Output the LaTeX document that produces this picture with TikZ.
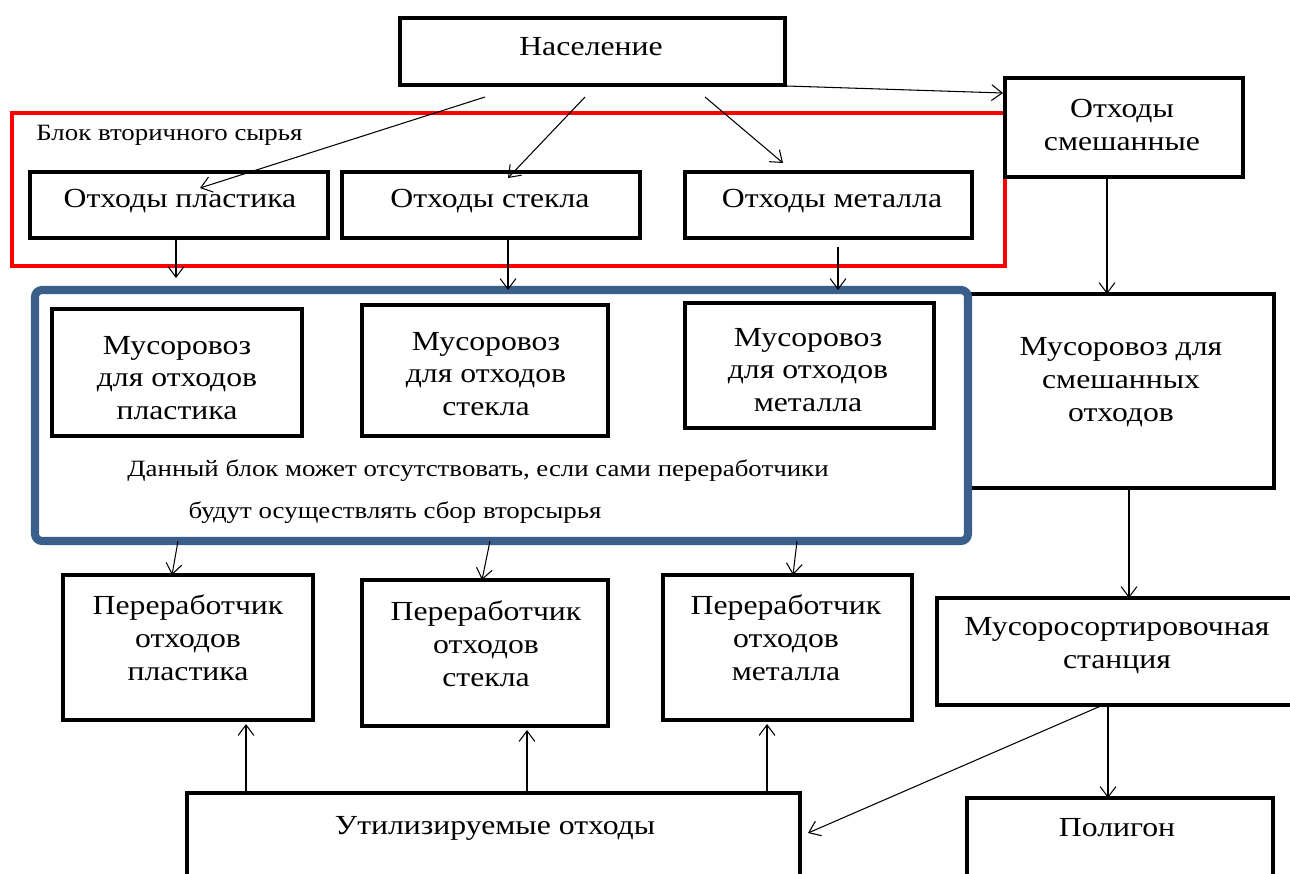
\documentclass[tikz,border=0pt]{standalone}
\usepackage{fontspec}
\setmainfont[FakeStretch=1.15]{Liberation Serif}
\usetikzlibrary{arrows.meta,fit}
\definecolor{blockblue}{RGB}{58,95,139}
\definecolor{blockred}{RGB}{255,0,0}
\tikzset{
  box/.style={draw, line width=2.8pt, inner sep=0pt, outer sep=0pt},
  txt/.style={align=center, inner sep=0pt, font=\fontsize{15.7}{18.7}\selectfont},
  small/.style={inner sep=0pt, font=\fontsize{13.3}{14}\selectfont},
  arr/.style={line width=0.6pt, -{Straight Barb[length=6pt,width=9pt,line width=0.6pt]}},
}
\begin{document}
\begin{tikzpicture}[x=0.02cm,y=-0.02cm]
\useasboundingbox (0,0) rectangle (1290,873);
\clip (0,0) rectangle (1290,873);
\fill[white] (0,0) rectangle (1290,873);
% red block
\node[draw=blockred, line width=2.4pt, inner sep=0pt, outer sep=0pt, fit={(12,113)(1005,266)}] (red) {};
\node[small, anchor=west] (redlbl) at (36,135) {Блок вторичного сырья};
% top
\node[box, fit={(400,18)(785,85)}] (nas) {};
\node[txt] (nast) at (591,47) {Население};
\node[box, fill=white, fit={(1005,78)(1243,177)}] (mix) {};
\node[txt] (mixt) at (1122,125) {Отходы\\смешанные};
\node[box, fit={(30,172)(328,238)}] (plas) {};
\node[txt] (plast) at (180,201) {Отходы пластика};
\node[box, fit={(342,172)(640,238)}] (glass) {};
\node[txt] (glasst) at (490,201) {Отходы стекла};
\node[box, fit={(685,172)(972,238)}] (metal) {};
\node[txt] (metalt) at (832,201) {Отходы металла};
% trucks
\node[box, fit={(968,294)(1274,488)}] (tmix) {};
\node[txt] (tmixt) at (1121,382) {Мусоровоз для\\смешанных\\отходов};
\node[draw=blockblue, line width=4.6pt, rounded corners=4pt, inner sep=0pt, outer sep=0pt, fit={(35,290)(968,541)}] (blue) {};
\node[box, fit={(52,309)(302,436)}] (tplas) {};
\node[txt] (tplast) at (177,378) {Мусоровоз\\для отходов\\пластика};
\node[box, fit={(362,305)(608,436)}] (tglass) {};
\node[txt] (tglasst) at (486,374) {Мусоровоз\\для отходов\\стекла};
\node[box, fit={(685,303)(934,428)}] (tmetal) {};
\node[txt] (tmetalt) at (808,370) {Мусоровоз\\для отходов\\металла};
\node[small] (note1) at (478,471) {Данный блок может отсутствовать, если сами переработчики};
\node[small] (note2) at (395,513) {будут осуществлять сбор вторсырья};
% processors
\node[box, fit={(63,575)(313,720)}] (pplas) {};
\node[txt] (pplast) at (188,638) {Переработчик\\отходов\\пластика};
\node[box, fit={(362,580)(608,726)}] (pglass) {};
\node[txt] (pglasst) at (486,644) {Переработчик\\отходов\\стекла};
\node[box, fit={(663,575)(912,720)}] (pmetal) {};
\node[txt] (pmetalt) at (786,638) {Переработчик\\отходов\\металла};
\node[box, fit={(937,598)(1310,705)}] (sort) {};
\node[txt] (sortt) at (1117,646) {Мусоросортировочная\\станция};
% bottom
\node[box, fit={(187,793)(800,910)}] (util) {};
\node[txt] (utilt) at (495,828) {Утилизируемые отходы};
\node[box, fit={(967,798)(1273,910)}] (poly) {};
\node[txt] (polyt) at (1117,828) {Полигон};
% arrows
\draw[arr] ([shift={(85,12)}]nas.south west) -- ([shift={(170,16)}]plas.north west);
\draw[arr] ([shift={(185,12)}]nas.south west) -- ([shift={(166,6)}]glass.north west);
\draw[arr] ([shift={(305,12)}]nas.south west) -- ([shift={(98,-9)}]metal.north west);
\draw[arr] ([shift={(2,1)}]nas.south east) -- ([shift={(-2,15)}]mix.north west);
\draw[arr] ([shift={(146,0)}]plas.south west) -- ([shift={(141,-12)}]blue.north west);
\draw[arr] ([shift={(166,0)}]glass.south west) -- ([shift={(473,0)}]blue.north west);
\draw[arr] ([shift={(153,9)}]metal.south west) -- ([shift={(803,0)}]blue.north west);
\draw[arr] ([shift={(102,0)}]mix.south west) -- ([shift={(139,0)}]tmix.north west);
\draw[arr] ([shift={(143,0)}]blue.south west) -- ([shift={(109,0)}]pplas.north west);
\draw[arr] ([shift={(455,0)}]blue.south west) -- ([shift={(120,0)}]pglass.north west);
\draw[arr] ([shift={(762,0)}]blue.south west) -- ([shift={(130,0)}]pmetal.north west);
\draw[arr] ([shift={(161,0)}]tmix.south west) -- ([shift={(192,0)}]sort.north west);
\draw[arr] ([shift={(59,0)}]util.north west) -- ([shift={(183,4)}]pplas.south west);
\draw[arr] ([shift={(340,0)}]util.north west) -- ([shift={(165,4)}]pglass.south west);
\draw[arr] ([shift={(580,0)}]util.north west) -- ([shift={(104,4)}]pmetal.south west);
\draw[arr] ([shift={(166,0)}]sort.south west) -- ([shift={(8,40)}]util.north east);
\draw[arr] ([shift={(171,0)}]sort.south west) -- ([shift={(141,0)}]poly.north west);
\end{tikzpicture}
\end{document}
